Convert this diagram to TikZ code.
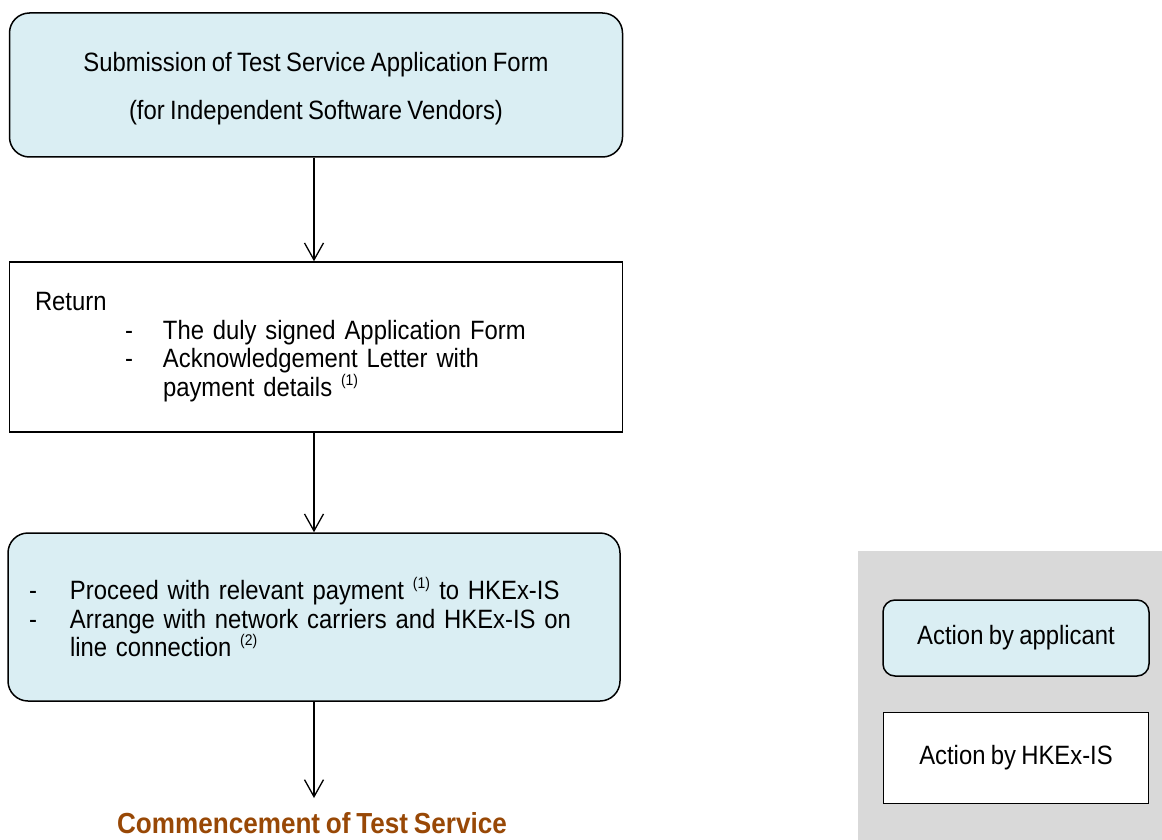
\documentclass[tikz,border=0pt]{standalone}
\usepackage{fontspec}
\setmainfont{Liberation Sans}[FakeStretch=0.9, WordSpace=0.8]
\usetikzlibrary{arrows.meta}
\definecolor{applicant}{HTML}{DAEEF3}
\definecolor{legendgray}{HTML}{D9D9D9}
\definecolor{startbrown}{HTML}{984806}
\begin{document}
\begin{tikzpicture}[x=1pt,y=-1pt]
\tikzset{edge/.style = {-{Straight Barb[length=17pt,width=19pt,line width=1.3pt]}, line width=1.3pt}}
\tikzset{applicantbox/.style = {draw, line width=1.5pt, rounded corners=20pt, fill=applicant, inner sep=0pt}}
\tikzset{hkexbox/.style = {draw, line width=1.5pt, fill=white, inner sep=0pt}}
\tikzset{boxtext/.style = {font=\fontsize{26.5}{28.5}\selectfont}}
\def \note #1{ \raisebox{2pt}{\textsuperscript{\fontsize{15.5}{15.5}\selectfont(#1)}}}
\useasboundingbox (0,0) rectangle (1162,840);
% flow
\node[applicantbox, boxtext, minimum width=613pt, minimum height=144pt, align=center](form) at (316,85)
  {\rule{0pt}{26pt}Submission of Test Service Application Form\\[19.5pt](for Independent Software Vendors)};
\node[hkexbox, boxtext, minimum width=613pt, minimum height=170pt, text width=562pt, align=left](ret) at (316,347)
  {Return\\
   \hspace*{90pt}\makebox[38pt][l]{-}The duly signed Application Form\\
   \hspace*{90pt}\makebox[38pt][l]{-}Acknowledgement Letter with\\
   \hspace*{128pt}payment details\note{1}};
\node[applicantbox, boxtext, minimum width=612pt, minimum height=168pt, text width=570pt, align=left](pay) at (314,617)
  {\makebox[41pt][l]{-}Proceed with relevant payment\note{1} to HKEx-IS\\
   \makebox[41pt][l]{-}Arrange with network carriers and HKEx-IS on\\
   \hspace*{41pt}line connection\note{2}};
\node[font=\fontsize{29}{30}\selectfont\bfseries, text=startbrown, anchor=north, inner sep=0pt](start) at (312,812) {Commencement of Test Service};
\draw[edge] (form.south -| 314,0) -- (ret.north -| 314,0);
\draw[edge] (ret.south -| 314,0) -- (pay.north -| 314,0);
\draw[edge] (pay.south -| 314,0) -- (314,798);
% legend
\fill[legendgray] (858,551) rectangle (1162,840);
\node[applicantbox, rounded corners=12pt, font=\fontsize{26.5}{28}\selectfont, minimum width=266pt, minimum height=76pt](lapp) at (1016,638) {Action by applicant};
\node[hkexbox, font=\fontsize{26.5}{28}\selectfont, minimum width=265pt, minimum height=91pt](lhkex) at (1016,758) {Action by HKEx-IS};
\end{tikzpicture}
\end{document}
